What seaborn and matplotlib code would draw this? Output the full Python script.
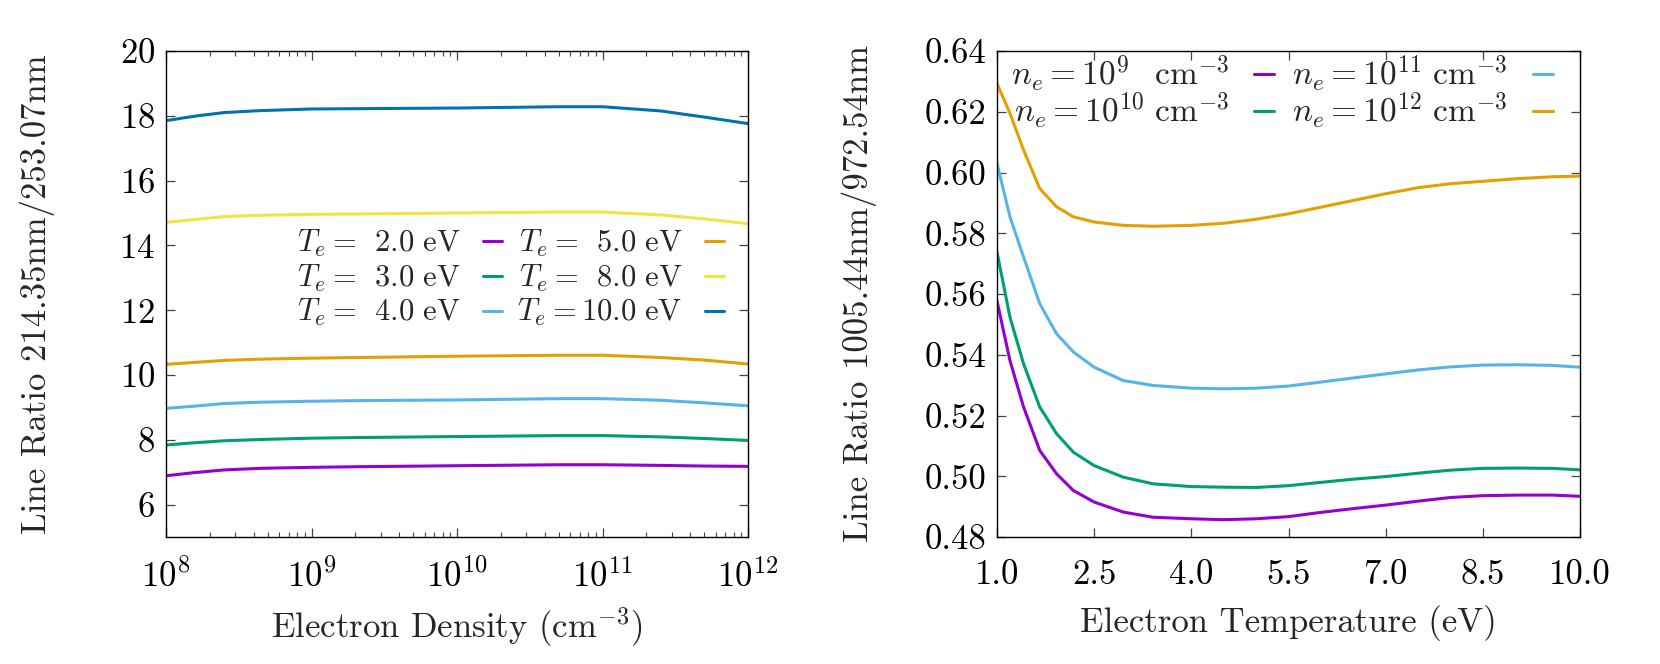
import numpy as np
import pandas as pd
import matplotlib
matplotlib.use("Agg")
import matplotlib.pyplot as plt
import seaborn as sns
from matplotlib.lines import Line2D
from matplotlib.ticker import FixedLocator, FormatStrFormatter, LogLocator, NullFormatter

# ---------------- data: left panel (ratio vs electron density) ----------------
log_ne = [8.0, 8.2, 8.4, 8.65, 9.0, 9.33, 10.0, 10.7, 11.0, 11.4, 11.7, 12.0]
te_labels = ["2.0", "3.0", "4.0", "5.0", "8.0", "10.0"]
ratio_te2 = [6.89, 6.99, 7.07, 7.12, 7.15, 7.17, 7.20, 7.23, 7.23, 7.21, 7.19, 7.18]
ratio_te3 = [7.84, 7.91, 7.97, 8.01, 8.05, 8.07, 8.10, 8.13, 8.13, 8.09, 8.04, 7.98]
ratio_te4 = [8.97, 9.04, 9.12, 9.16, 9.19, 9.21, 9.23, 9.27, 9.27, 9.22, 9.14, 9.05]
ratio_te5 = [10.33, 10.39, 10.45, 10.49, 10.52, 10.54, 10.58, 10.61, 10.61, 10.54, 10.46, 10.34]
ratio_te8 = [14.71, 14.80, 14.89, 14.93, 14.96, 14.97, 15.00, 15.03, 15.03, 14.94, 14.82, 14.67]
ratio_te10 = [17.85, 17.99, 18.10, 18.16, 18.21, 18.22, 18.24, 18.28, 18.28, 18.15, 17.96, 17.76]

# ---------------- data: right panel (ratio vs electron temperature) ----------------
te = [1.0, 1.2, 1.41, 1.66, 1.92, 2.18, 2.5, 2.95, 3.41, 4.0, 4.5, 5.0, 5.5,
      5.96, 6.48, 7.0, 7.5, 8.0, 8.5, 9.05, 9.57, 10.0]
ne_exps = ["9", "10", "11", "12"]
ratio_ne9 = [0.5577, 0.5381, 0.5228, 0.5085, 0.5008, 0.4953, 0.4915, 0.4882, 0.4865,
             0.4860, 0.4857, 0.4860, 0.4867, 0.4880, 0.4893, 0.4905, 0.4918, 0.4930,
             0.4936, 0.4938, 0.4938, 0.4934]
ratio_ne10 = [0.5738, 0.5524, 0.5370, 0.5228, 0.5140, 0.5079, 0.5035, 0.4997, 0.4975,
              0.4966, 0.4964, 0.4963, 0.4969, 0.4979, 0.4990, 0.4999, 0.5010, 0.5020,
              0.5026, 0.5027, 0.5026, 0.5021]
ratio_ne11 = [0.6030, 0.5854, 0.5722, 0.5568, 0.5469, 0.5409, 0.5359, 0.5315, 0.5299,
              0.5290, 0.5288, 0.5290, 0.5297, 0.5309, 0.5323, 0.5337, 0.5350, 0.5360,
              0.5366, 0.5367, 0.5365, 0.5359]
ratio_ne12 = [0.6293, 0.6195, 0.6074, 0.5947, 0.5887, 0.5854, 0.5837, 0.5826, 0.5823,
              0.5826, 0.5833, 0.5846, 0.5864, 0.5884, 0.5907, 0.5930, 0.5950, 0.5963,
              0.5971, 0.5980, 0.5986, 0.5988]

colors_left = ["#9400d3", "#009e73", "#56b4e9", "#e69f00", "#f0e442", "#0072b2"]
colors_right = ["#9400d3", "#009e73", "#56b4e9", "#e69f00"]

# ---------------- style ----------------
sns.set_theme(style="ticks")
FS = 25
plt.rcParams.update({
    "font.family": ["cmr10", "DejaVu Serif"],
    "mathtext.fontset": "cm",
    "axes.formatter.use_mathtext": True,
    "axes.unicode_minus": False,
    "font.size": FS,
    "axes.labelsize": FS,
    "xtick.labelsize": FS,
    "ytick.labelsize": FS,
    "axes.edgecolor": "black",
    "axes.linewidth": 1.0,
    "xtick.direction": "in",
    "ytick.direction": "in",
    "xtick.top": True,
    "ytick.right": True,
    "xtick.color": "#444444",
    "ytick.color": "#444444",
    "xtick.labelcolor": "black",
    "ytick.labelcolor": "black",
    "xtick.major.size": 6.5,
    "ytick.major.size": 6.5,
    "xtick.minor.size": 3.5,
    "ytick.minor.size": 3.5,
    "xtick.major.width": 0.9,
    "ytick.major.width": 0.9,
    "xtick.minor.width": 0.8,
})

fig = plt.figure(figsize=(16.6, 6.64), dpi=100)
ax1 = fig.add_axes([166 / 1660, 1 - 537 / 664, (748 - 166) / 1660, (537 - 51) / 664])
ax2 = fig.add_axes([997 / 1660, 1 - 537 / 664, (1580 - 997) / 1660, (537 - 51) / 664])

# ---------------- left panel ----------------
left_series = [ratio_te2, ratio_te3, ratio_te4, ratio_te5, ratio_te8, ratio_te10]
rows = []
for lab, ys in zip(te_labels, left_series):
    for lx, y in zip(log_ne, ys):
        rows.append({"ne": 10.0 ** lx, "ratio": y, "Te": lab})
df_left = pd.DataFrame(rows)
ax1.set_xscale("log")
sns.lineplot(data=df_left, x="ne", y="ratio", hue="Te", palette=colors_left,
             linewidth=2.2, ax=ax1, legend=False, sort=False)
ax1.set_xlim(1e8, 1e12)
ax1.set_ylim(5, 20)
ax1.yaxis.set_major_locator(FixedLocator([6, 8, 10, 12, 14, 16, 18, 20]))
ax1.xaxis.set_major_locator(LogLocator(base=10, numticks=10))
ax1.xaxis.set_minor_locator(LogLocator(base=10, subs=np.arange(2, 10), numticks=20))
ax1.xaxis.set_minor_formatter(NullFormatter())
ax1.set_xlabel(r"Electron Density (cm$^{-3}$)")
ax1.set_ylabel(r"Line Ratio 214.35nm/253.07nm")
ax1.tick_params(axis="y", which="major", pad=8)
ax1.tick_params(axis="x", which="major", pad=16)
ax1.yaxis.set_label_coords(-0.19, 0.5)
ax1.xaxis.set_label_coords(0.5, -0.14)

h1 = [Line2D([], [], color=c, lw=2.2) for c in colors_left]
l1 = []
for lab in te_labels:
    if len(lab) == 3:
        l1.append(r"$T_e = \enspace " + lab + r"\ \mathrm{eV}$")
    else:
        l1.append(r"$T_e = " + lab + r"\ \mathrm{eV}$")
leg1 = ax1.legend(h1, l1, ncol=2, markerfirst=False, frameon=False,
                  loc="center right", bbox_to_anchor=(0.995, 0.533),
                  handlelength=0.6, handletextpad=0.75, columnspacing=0.5,
                  labelspacing=0.12, borderaxespad=0.3, fontsize=22)

# ---------------- right panel ----------------
right_series = [ratio_ne9, ratio_ne10, ratio_ne11, ratio_ne12]
rows = []
for lab, ys in zip(ne_exps, right_series):
    for x, y in zip(te, ys):
        rows.append({"Te": x, "ratio": y, "ne": lab})
df_right = pd.DataFrame(rows)
sns.lineplot(data=df_right, x="Te", y="ratio", hue="ne", palette=colors_right,
             linewidth=2.2, ax=ax2, legend=False, sort=False)
ax2.set_xlim(1.0, 10.0)
ax2.set_ylim(0.48, 0.64)
ax2.xaxis.set_major_locator(FixedLocator([1.0, 2.5, 4.0, 5.5, 7.0, 8.5, 10.0]))
ax2.yaxis.set_major_locator(FixedLocator(np.round(np.arange(0.48, 0.6401, 0.02), 2)))
ax2.xaxis.set_major_formatter(FormatStrFormatter("%.1f"))
ax2.yaxis.set_major_formatter(FormatStrFormatter("%.2f"))
ax2.set_xlabel("Electron Temperature (eV)")
ax2.set_ylabel(r"Line Ratio 1005.44nm/972.54nm")
ax2.tick_params(axis="y", which="major", pad=8)
ax2.tick_params(axis="x", which="major", pad=16)
ax2.yaxis.set_label_coords(-0.205, 0.5)
ax2.xaxis.set_label_coords(0.5, -0.14)

h2 = [Line2D([], [], color=c, lw=2.2) for c in colors_right]
l2 = []
for e in ne_exps:
    if len(e) == 1:
        l2.append(r"$n_e = 10^{" + e + r"}\enspace\ \mathrm{cm}^{-3}$")
    else:
        l2.append(r"$n_e = 10^{" + e + r"}\ \mathrm{cm}^{-3}$")
leg2 = ax2.legend(h2, l2, ncol=2, markerfirst=False, frameon=False,
                  loc="upper left", bbox_to_anchor=(0.012, 1.008),
                  handlelength=0.6, handletextpad=0.75, columnspacing=0.55,
                  labelspacing=-0.1, borderaxespad=0.0, borderpad=0.2, fontsize=24)

for ax in (ax1, ax2):
    for s in ax.spines.values():
        s.set_visible(True)
        s.set_color("black")

fig.savefig("out.png", dpi=100)
